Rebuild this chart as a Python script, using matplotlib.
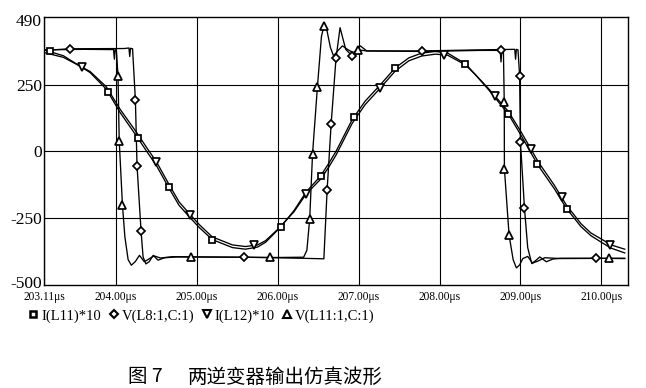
import matplotlib
matplotlib.use("Agg")
import matplotlib.pyplot as plt
from matplotlib.lines import Line2D
from matplotlib.transforms import ScaledTranslation

plt.rcParams["font.family"] = ["Liberation Serif", "DejaVu Serif"]

# sine-like currents, time in us
t_sine = [203.11, 203.35, 203.55, 203.68, 203.88, 204.05, 204.25, 204.38, 204.50, 204.66,
          204.78, 204.91, 205.03, 205.19, 205.44, 205.60, 205.75, 205.85, 206.02, 206.20,
          206.35, 206.53, 206.63, 206.72, 206.92, 207.08, 207.27, 207.45, 207.62, 207.78,
          207.95, 208.10, 208.32, 208.45, 208.60, 208.85, 209.01, 209.12, 209.22, 209.42,
          209.57, 209.75, 209.87, 210.00, 210.12, 210.29]
i_l11 = [380, 358, 320, 295, 233, 146, 59, 0, -53, -140,
         -202, -246, -285, -330, -360, -366, -358, -340, -288, -222,
         -152, -92, -45, 0, 119, 188, 250, 312, 350, 368,
         374, 368, 328, 285, 233, 140, 59, 0, -53, -140,
         -214, -282, -315, -340, -362, -380]
i_l12 = [370, 352, 320, 299, 242, 158, 73, 14, -39, -126,
         -189, -234, -274, -320, -350, -356, -350, -334, -286, -226,
         -160, -104, -59, -14, 105, 175, 238, 300, 339, 357,
         364, 360, 324, 285, 237, 150, 72, 14, -39, -127,
         -202, -271, -305, -328, -350, -366]

# inverter output voltages (square waves with ringing)
t_v11 = [203.11, 203.60, 203.97, 203.98, 203.99, 204.005, 204.025, 204.04, 204.08, 204.11,
         204.15, 204.19, 204.24, 204.29, 204.35, 204.41, 204.47, 204.55, 204.70, 205.50,
         206.00, 206.32, 206.36, 206.395, 206.43, 206.49, 206.54, 206.57, 206.61, 206.65,
         206.69, 206.74, 206.80, 206.86, 206.93, 206.99, 207.10, 207.80, 208.50, 208.75,
         208.76, 208.77, 208.79, 208.80, 208.802, 208.86, 208.91, 208.95, 208.99, 209.03,
         209.09, 209.15, 209.22, 209.30, 209.50, 210.29]
v_l11 = [380, 382, 381, 345, 381, 378, 283, 40, -202, -320,
         -405, -426, -412, -389, -413, -402, -391, -399, -394, -396,
         -397, -396, -370, -252, -9, 240, 430, 469, 450, 390,
         357, 376, 395, 382, 370, 380, 376, 374, 378, 378,
         335, 378, 372, 186, -65, -314, -405, -436, -425, -401,
         -393, -418, -410, -398, -401, -400]

t_v8 = [203.11, 203.43, 204.10, 204.16, 204.17, 204.18, 204.205, 204.24, 204.26, 204.31,
        204.335, 204.37, 204.41, 204.46, 204.52, 204.60, 204.75, 205.585, 206.30, 206.57,
        206.61, 206.66, 206.72, 206.77, 206.84, 206.92, 207.02, 207.10, 207.78, 208.50,
        208.93, 208.94, 208.95, 208.97, 208.99, 209.00, 209.05, 209.09, 209.14, 209.19,
        209.24, 209.32, 209.40, 209.50, 209.94, 210.29]
v_l8 = [378, 384, 385, 387, 355, 386, 384, 192, -53, -299,
        -395, -421, -413, -389, -407, -398, -395, -396, -400, -402,
        -146, 103, 348, 463, 382, 357, 395, 376, 376, 380,
        382, 345, 382, 380, 283, 37, -212, -360, -420, -408,
        -395, -413, -403, -400, -400, -401]

# marker positions on each trace
sq_t = [203.18, 203.90, 204.27, 204.65, 205.19, 206.04, 206.53, 206.94, 207.45, 208.32,
        208.85, 209.21, 209.57]
sq_v = [376, 224, 50, -135, -330, -282, -92, 127, 312, 328, 140, -48, -214]
dm_t = [203.43, 204.24, 204.26, 204.31, 205.585, 206.61, 206.66, 206.72, 206.92, 207.78,
        208.76, 208.99, 209.00, 209.05, 209.94]
dm_v = [384, 192, -53, -299, -396, -146, 103, 348, 357, 376, 381, 283, 37, -212, -400]
dt_t = [203.58, 204.50, 204.92, 205.71, 206.35, 207.27, 208.05, 208.68, 209.13, 209.51, 210.11]
dt_v = [315, -39, -237, -352, -160, 238, 361, 208, 9, -172, -349]
tr_t = [204.025, 204.04, 204.08, 204.93, 205.90, 206.395, 206.43, 206.49, 206.57, 206.99,
        208.80, 208.802, 208.86, 210.09]
tr_v = [283, 40, -202, -395, -396, -252, -9, 240, 469, 380, 186, -65, -314, -400]

x_ticks = [203.11, 204, 205, 206, 207, 208, 209, 210]
x_labels = ["203.11μs", "204.00μs", "205.00μs", "206.00μs", "207.00μs",
            "208.00μs", "209.00μs", "210.00μs"]
y_ticks = [490, 250, 0, -250, -500]
legend_labels = ["I(L11)*10", "V(L8:1,C:1)", "I(L12)*10", "V(L11:1,C:1)"]

W, H = 646, 388
fig = plt.figure(figsize=(W / 100, H / 100), dpi=100)
ax = fig.add_axes([44 / W, 1 - 285 / H, (628 - 44) / W, (285 - 17) / H])

lw = 0.95
ax.plot(t_sine, i_l11, color="black", lw=lw)
ax.plot(t_sine, i_l12, color="black", lw=lw)
ax.plot(t_v8, v_l8, color="black", lw=lw)
ax.plot(t_v11, v_l11, color="black", lw=lw)

mk = dict(ls="none", mfc="white", mec="black", mew=1.25, zorder=5)
ax.plot(sq_t, sq_v, marker="s", ms=4.8, **mk)
ax.plot(dm_t, dm_v, marker="D", ms=4.4, **mk)
ax.plot(dt_t, dt_v, marker="v", ms=6, **mk)
ax.plot(tr_t, tr_v, marker="^", ms=6, **mk)

ax.set_xlim(203.11, 210.33)
ax.set_ylim(-500, 503)
ax.set_xticks(x_ticks)
ax.set_xticklabels(x_labels, fontsize=8.3)
ax.set_yticks(y_ticks)
ax.set_yticklabels([str(v) for v in y_ticks], fontsize=12.5)
ax.tick_params(axis="both", length=0, colors="black")
ax.tick_params(axis="x", pad=4.5)
ax.tick_params(axis="y", pad=1.5)

# lift the bottom y label a little so it clears the first time label
lift = ScaledTranslation(0, 3 / 100, fig.dpi_scale_trans)
ax.get_yticklabels()[-1].set_transform(ax.get_yticklabels()[-1].get_transform() + lift)

ax.grid(True, color="black", lw=0.8)
for tick_val, gl in zip(y_ticks, ax.yaxis.get_gridlines()):
    if tick_val in (490, -500):
        gl.set_visible(False)
for spine in ax.spines.values():
    spine.set_linewidth(1.0)
    spine.set_color("black")

handles = [
    Line2D([], [], marker="s", ls="none", mfc="white", mec="black", mew=1.8, ms=4.5),
    Line2D([], [], marker="D", ls="none", mfc="white", mec="black", mew=1.5, ms=4.2),
    Line2D([], [], marker="v", ls="none", mfc="white", mec="black", mew=1.5, ms=6),
    Line2D([], [], marker="^", ls="none", mfc="white", mec="black", mew=1.5, ms=6),
]
fig.legend(handles, legend_labels, loc="center left", bbox_to_anchor=(29 / W, 1 - 316 / H),
           ncol=4, frameon=False, fontsize=10.5, handlelength=0.6, handletextpad=0.25,
           columnspacing=0.55, borderpad=0, borderaxespad=0)

cjk = ["Noto Sans CJK SC", "DejaVu Sans"]
fig.text(128 / W, 1 - 377 / H, "图 7", family=cjk, fontsize=14, fontweight="light",
         va="center", ha="left")
fig.text(188 / W, 1 - 377 / H, "两逆变器输出仿真波形", family=cjk, fontsize=14,
         fontweight="light", va="center", ha="left")

fig.savefig("out.png", dpi=100)
